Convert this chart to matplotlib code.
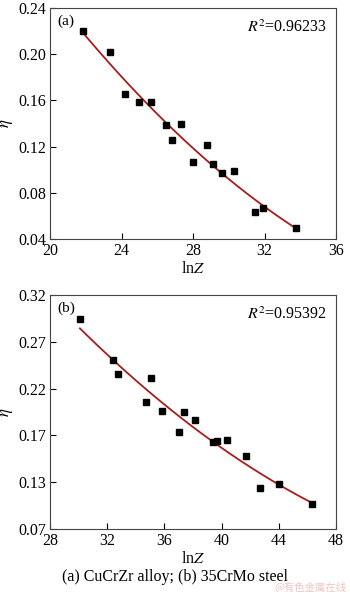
import numpy as np
import matplotlib.pyplot as plt

plt.rcParams['font.family'] = ['Liberation Serif', 'DejaVu Serif']
plt.rcParams['mathtext.fontset'] = 'stix'

# (a) CuCrZr alloy
lnz_a = [21.87, 23.37, 24.17, 24.99, 25.66, 26.48, 26.84, 27.31, 27.98, 28.80,
         29.14, 29.61, 30.29, 31.45, 31.94, 33.75]
eta_a = [0.2196, 0.2014, 0.1650, 0.1586, 0.1586, 0.1385, 0.1254, 0.1393, 0.1067, 0.1214,
         0.1049, 0.0970, 0.0990, 0.0636, 0.0672, 0.0500]

# (b) 35CrMo steel
lnz_b = [30.09, 32.40, 32.72, 34.73, 35.03, 35.80, 37.03, 37.34, 38.11, 39.40,
         39.65, 40.40, 41.72, 42.69, 44.03, 46.33]
eta_b = [0.2937, 0.2503, 0.2354, 0.2052, 0.2314, 0.1962, 0.1742, 0.1951, 0.1863, 0.1628,
         0.1642, 0.1649, 0.1482, 0.1140, 0.1180, 0.0966]

r2_a = "0.96233"
r2_b = "0.95392"
yticks_b = [0.07, 0.12, 0.17, 0.22, 0.27, 0.32]
ylabels_b = ["0.07", "0.13", "0.17", "0.22", "0.27", "0.32"]

fig = plt.figure(figsize=(3.5, 5.92), dpi=100)
ax1 = fig.add_axes([0.143, 0.596, 0.817, 0.391])
ax2 = fig.add_axes([0.143, 0.106, 0.817, 0.396])

red = '#a81c1c'


def panel(ax, x, y, r2, tag):
    c = np.polyfit(x, y, 2)
    xs = np.linspace(min(x), max(x), 100)
    ax.plot(xs, np.polyval(c, xs), color=red, lw=1.3, zorder=2)
    ax.plot(x, y, 's', color='black', ms=4, zorder=3)
    ax.text(0.025, 0.97, tag, transform=ax.transAxes, ha='left', va='top', fontsize=11)
    ax.text(0.97, 0.95, r'$R^2$=' + r2, transform=ax.transAxes, ha='right', va='top',
            fontsize=11.5)
    ax.set_xlabel(r'ln$Z$', fontsize=11.5, labelpad=1)
    ax.set_ylabel(r'$\eta$', fontsize=12, labelpad=2)
    ax.tick_params(direction='in', labelsize=11.5, length=4, pad=3)
    for s in ax.spines.values():
        s.set_color('#444444')


panel(ax1, lnz_a, eta_a, r2_a, '(a)')
ax1.set_xlim(20, 36)
ax1.set_ylim(0.04, 0.24)
ax1.set_xticks([20, 24, 28, 32, 36])
ax1.set_yticks([0.04, 0.08, 0.12, 0.16, 0.20, 0.24])
ax1.set_yticklabels(["0.04", "0.08", "0.12", "0.16", "0.20", "0.24"])

panel(ax2, lnz_b, eta_b, r2_b, '(b)')
ax2.set_xlim(28, 48)
ax2.set_ylim(0.07, 0.32)
ax2.set_xticks([28, 32, 36, 40, 44, 48])
ax2.set_yticks(yticks_b)
ax2.set_yticklabels(ylabels_b)

fig.text(0.5, 0.025, '(a) CuCrZr alloy; (b) 35CrMo steel', ha='center', va='center',
         fontsize=11.5)
fig.text(0.99, 0.0, '@有色金属在线', ha='right', va='bottom', fontsize=7.5,
         color='#f2c4c4', family=['Noto Sans CJK SC', 'DejaVu Sans'])

fig.savefig('out.png', dpi=100)
